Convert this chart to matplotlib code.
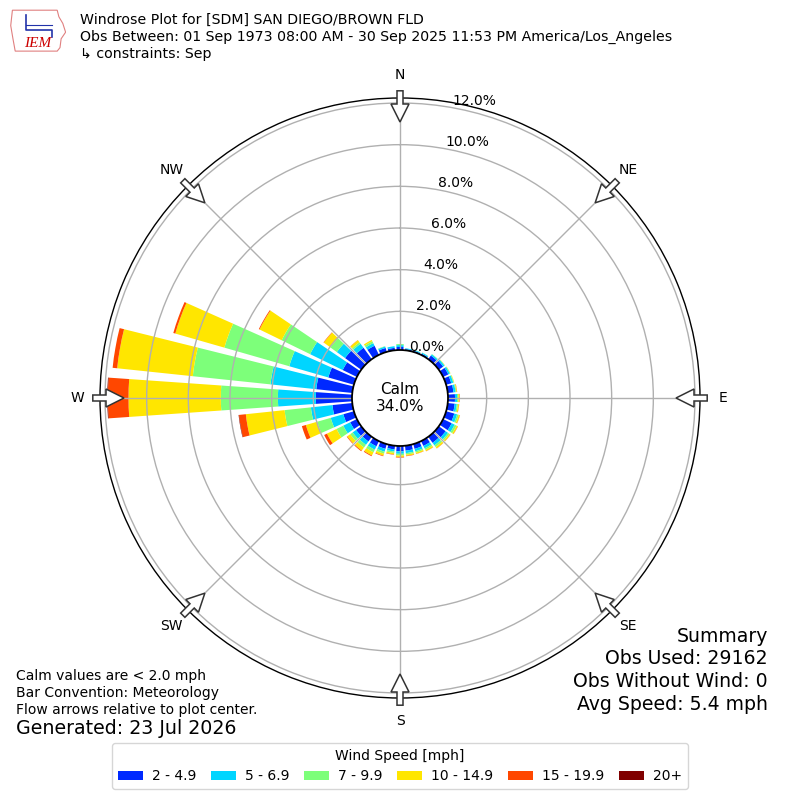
import numpy as np
import matplotlib
matplotlib.use('Agg')
import matplotlib.pyplot as plt
from matplotlib.patches import Circle, FancyArrow, Patch, Polygon

# ---------------- data ----------------
directions = list(range(0, 360, 10))
speed_labels = ['2 - 4.9', '5 - 6.9', '7 - 9.9', '10 - 14.9', '15 - 19.9', '20+']

pct_2_5 = [0.29, 0.20, 0.20, 0.21, 0.36, 0.40, 0.42, 0.40, 0.42, 0.48, 0.48, 0.55,
           0.60, 0.55, 0.50, 0.40, 0.38, 0.38, 0.40, 0.32, 0.38, 0.42, 0.42, 0.45,
           0.50, 0.67, 1.10, 1.88, 1.88, 1.42, 0.90, 1.10, 0.82, 0.63, 0.34, 0.26]
pct_5_7 = [0.09, 0.04, 0.04, 0.05, 0.07, 0.08, 0.08, 0.10, 0.10, 0.10, 0.10, 0.14,
           0.16, 0.14, 0.15, 0.13, 0.12, 0.12, 0.12, 0.10, 0.14, 0.18, 0.20, 0.20,
           0.37, 0.63, 1.04, 1.82, 2.21, 1.95, 1.74, 0.49, 0.24, 0.14, 0.07, 0.08]
pct_7_10 = [0.05, 0.00, 0.01, 0.01, 0.02, 0.02, 0.03, 0.03, 0.04, 0.06, 0.06, 0.08,
            0.10, 0.08, 0.10, 0.08, 0.07, 0.07, 0.08, 0.07, 0.10, 0.14, 0.16, 0.15,
            0.36, 0.67, 1.27, 2.74, 3.75, 3.24, 1.52, 0.38, 0.09, 0.10, 0.02, 0.00]
pct_10_15 = [0.00, 0.00, 0.00, 0.00, 0.00, 0.01, 0.01, 0.02, 0.03, 0.05, 0.05, 0.06,
             0.07, 0.06, 0.08, 0.07, 0.06, 0.06, 0.07, 0.07, 0.10, 0.17, 0.18, 0.17,
             0.51, 0.57, 1.87, 4.43, 3.65, 2.45, 1.18, 0.39, 0.12, 0.07, 0.00, 0.00]
pct_15_20 = [0.00, 0.00, 0.00, 0.00, 0.00, 0.00, 0.00, 0.00, 0.01, 0.02, 0.01, 0.01,
             0.01, 0.01, 0.01, 0.01, 0.01, 0.02, 0.03, 0.02, 0.03, 0.04, 0.04, 0.03,
             0.15, 0.20, 0.33, 0.99, 0.22, 0.10, 0.04, 0.02, 0.01, 0.00, 0.00, 0.00]
pct_20p = [0.00] * 26 + [0.02, 0.03] + [0.00] * 8

ring_values = [0, 2, 4, 6, 8, 10, 12]
ring_labels = ['0.0%', '2.0%', '4.0%', '6.0%', '8.0%', '10.0%', '12.0%']
compass_angles = [0, 45, 90, 135, 180, 225, 270, 315]
compass_names = ['N', 'NE', 'E', 'SE', 'S', 'SW', 'W', 'NW']
calm_pct = 34.0

title_lines = ['Windrose Plot for [SDM] SAN DIEGO/BROWN FLD',
               'Obs Between: 01 Sep 1973 08:00 AM - 30 Sep 2025 11:53 PM America/Los_Angeles',
               '\u21b3 constraints: Sep']
notes_lines = ['Calm values are < 2.0 mph', 'Bar Convention: Meteorology',
               'Flow arrows relative to plot center.']
generated = 'Generated: 23 Jul 2026'
summary_lines = ['Summary', 'Obs Used: 29162', 'Obs Without Wind: 0', 'Avg Speed: 5.4 mph']

# ---------------- figure ----------------
fig = plt.figure(figsize=(8, 8), dpi=100)
ax = fig.add_axes([0.125, 0.1275, 0.75, 0.75], projection='polar')
ax.set_theta_zero_location('N')
ax.set_theta_direction(-1)

cmap = plt.get_cmap('jet')
colors = [cmap((i + 1) / 6.0) for i in range(6)]
series = [pct_2_5, pct_5_7, pct_7_10, pct_10_15, pct_15_20, pct_20p]

theta = np.radians(directions)
bottom = np.zeros(len(directions))
for vals, col in zip(series, colors):
    vals = np.array(vals)
    ax.bar(theta, vals, width=np.radians(8), bottom=bottom, color=col,
           edgecolor='none', linewidth=0, zorder=1, align='center')
    bottom = bottom + vals

ax.set_ylim(0, 12.24)
ax.set_rorigin(-2.16)
ax.set_rgrids(ring_values, labels=[''] * len(ring_values))
ax.set_thetagrids(compass_angles, labels=[''] * len(compass_angles))
ax.set_axisbelow(False)
ax.grid(True, color='#b0b0b0', linewidth=1)
ax.spines['polar'].set_color('black')
ax.spines['polar'].set_linewidth(1)

for v, lbl in zip(ring_values, ring_labels):
    ax.text(np.radians(10), v + 0.33, lbl, ha='left', va='center',
            fontsize=10, zorder=6)

# calm circle
ax.add_patch(Circle((0.5, 0.5), 48 / 600, transform=ax.transAxes,
                    facecolor='white', edgecolor='black', linewidth=1.3,
                    zorder=4, clip_on=False))
ax.text(0.5, 0.5, 'Calm\n%.1f%%' % calm_pct, transform=ax.transAxes,
        ha='center', va='center', fontsize=11, zorder=5)

# compass labels and arrows
for ang, name in zip(compass_angles, compass_names):
    a = np.radians(ang)
    sx, sy = np.sin(a), np.cos(a)
    ax.text(0.5 + 0.538 * sx, 0.5 + 0.538 * sy, name, transform=ax.transAxes,
            ha='center', va='center', fontsize=10, clip_on=False)
    r0, r1 = 0.512, 0.46
    arr = FancyArrow(0.5 + r0 * sx, 0.5 + r0 * sy, (r1 - r0) * sx, (r1 - r0) * sy,
                     width=0.01, head_width=0.03, head_length=0.03,
                     length_includes_head=True, transform=ax.transAxes,
                     facecolor='white', edgecolor='#333333', linewidth=1.1,
                     zorder=8, clip_on=False)
    ax.add_patch(arr)

# header
for i, line in enumerate(title_lines):
    fig.text(0.1, 0.975 - i * 0.0213, line, ha='left', va='center', fontsize=10.2)

# logo
lax = fig.add_axes([0.012, 0.935, 0.07, 0.055])
lax.set_xlim(0, 1)
lax.set_ylim(0, 1)
lax.axis('off')
iowa = [(0.05, 0.95), (0.85, 0.95), (0.88, 0.80), (0.95, 0.65), (1.0, 0.45),
        (0.92, 0.30), (0.90, 0.10), (0.85, 0.02), (0.10, 0.02), (0.06, 0.30),
        (0.02, 0.60), (0.05, 0.95)]
lax.add_patch(Polygon(iowa, closed=True, fill=False, edgecolor='#e08080', linewidth=0.8))
lax.plot([0.3, 0.3, 0.75, 0.75], [0.85, 0.5, 0.5, 0.35], color='#2233aa', lw=1.2)
lax.plot([0.3, 0.75], [0.62, 0.62], color='#2233aa', lw=0.8)
lax.text(0.5, 0.2, 'IEM', ha='center', va='center', color='#cc0000',
         fontsize=11, fontstyle='italic', family='Liberation Serif')

# notes
for i, line in enumerate(notes_lines):
    fig.text(0.02, 0.155 - i * 0.0213, line, ha='left', va='center', fontsize=10)
fig.text(0.02, 0.089, generated, ha='left', va='center', fontsize=13.7)

for i, line in enumerate(summary_lines):
    fig.text(0.96, 0.205 - i * 0.0287, line, ha='right', va='center', fontsize=13.6)

handles = [Patch(facecolor=c, edgecolor='none') for c in colors]
leg = fig.legend(handles, speed_labels, loc='center', bbox_to_anchor=(0.5, 0.0425),
                 ncol=6, title='Wind Speed [mph]', fontsize=10, title_fontsize=10,
                 frameon=True, handlelength=1.8, handleheight=0.7,
                 columnspacing=1.05, handletextpad=0.65)
leg.get_frame().set_edgecolor('#cccccc')

fig.savefig('out.png', dpi=100)
